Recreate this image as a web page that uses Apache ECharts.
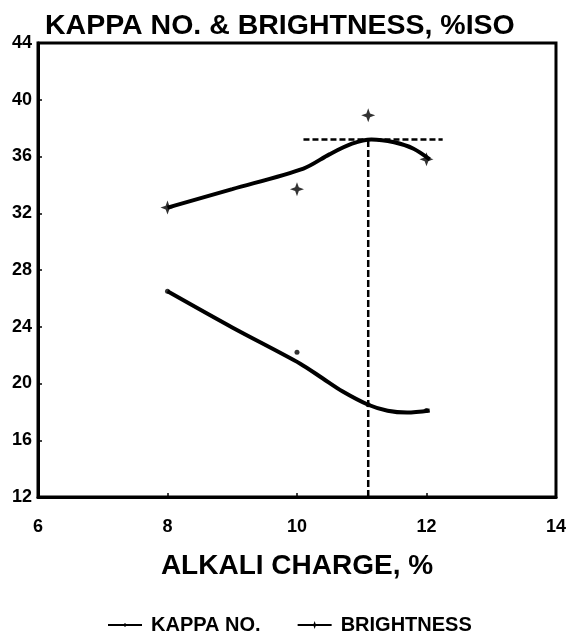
<!DOCTYPE html>
<html>
<head>
<meta charset="utf-8">
<script src="https://cdn.jsdelivr.net/npm/echarts@6/dist/echarts.min.js"></script>
<style>
html,body{margin:0;padding:0;background:#fff;}
#chart{width:569px;height:634px;}
</style>
</head>
<body>
<div id="chart"></div>
<script>
// ---- data ----
const titleText = 'KAPPA NO. & BRIGHTNESS, %ISO';
const xAxisTitle = 'ALKALI CHARGE, %';
const seriesNames = ['KAPPA NO.', 'BRIGHTNESS'];

// x axis: 6..14 step 2, y axis: 12..44 step 4
const xMin = 6, xMax = 14, xStep = 2;
const yMin = 12, yMax = 44, yStep = 4;

// measured points
const kappaPtsX = [8, 10, 11.1, 12];
const kappaPtsY = [26.5, 22.2, 18.5, 18.1];
const brightPtsX = [8, 10, 11.1, 12];
const brightPtsY = [32.4, 33.7, 38.9, 35.8];

// fitted curves
const kappaCurveX = [8, 9, 10.05, 10.4, 10.7, 11.1, 11.4, 11.7, 12.05];
const kappaCurveY = [26.5, 23.95, 21.4, 20.35, 19.45, 18.5, 18.08, 17.95, 18.1];
const brightCurveX = [8, 9, 10.1, 10.5, 10.85, 11.15, 11.5, 11.8, 12.05];
const brightCurveY = [32.4, 33.7, 35.15, 36.15, 36.9, 37.2, 37.0, 36.55, 35.8];

// optimum guide lines
const optX = 11.1;
const optY = 37.2;
const hGuideX = [10.1, 12.25];

const zip = (xs, ys) => xs.map((x, i) => [x, ys[i]]);

const FONT = '"Liberation Sans", Arial, Helvetica, sans-serif';
const plusSym = 'path://M5,0L6.3,3.7L10,5L6.3,6.3L5,10L3.7,6.3L0,5L3.7,3.7Z';
const dotSym = 'path://M0,0M10,10M5,2.4L7.6,5L5,7.6L2.4,5Z';

const chart = echarts.init(document.getElementById('chart'), null, {renderer: 'canvas'});
chart.setOption({
  backgroundColor: '#fff',
  animation: false,
  title: {
    text: titleText,
    left: 40, top: 7,
    textStyle: {fontFamily: FONT, fontWeight: 'bold', fontSize: 28.5, color: '#000'}
  },
  legend: {
    data: seriesNames,
    left: 102, top: 610,
    itemWidth: 34, itemHeight: 10, itemGap: 36,
    lineStyle: {width: 2},
    textStyle: {fontFamily: FONT, fontWeight: 'bold', fontSize: 20, color: '#000', padding: [0, 0, 0, 4]}
  },
  grid: {
    left: 38, right: 13, top: 43, bottom: 137,
    show: true, borderColor: '#000', borderWidth: 3
  },
  xAxis: {
    type: 'value', min: xMin, max: xMax, interval: xStep,
    name: xAxisTitle, nameLocation: 'middle', nameGap: 55,
    nameTextStyle: {fontFamily: FONT, fontWeight: 'bold', fontSize: 28, color: '#000'},
    axisLine: {show: true, lineStyle: {color: '#000', width: 3}},
    axisTick: {show: true, inside: true, length: 4, lineStyle: {color: '#000', width: 1.5}},
    axisLabel: {margin: 21, fontFamily: FONT, fontWeight: 'bold', fontSize: 18, color: '#000'},
    splitLine: {show: false}
  },
  yAxis: {
    type: 'value', min: yMin, max: yMax, interval: yStep,
    axisLine: {show: true, lineStyle: {color: '#000', width: 3}},
    axisTick: {show: true, inside: true, length: 4, lineStyle: {color: '#000', width: 1.5}},
    axisLabel: {margin: 6, fontFamily: FONT, fontWeight: 'bold', fontSize: 18, color: '#000'},
    splitLine: {show: false}
  },
  series: [
    {
      name: seriesNames[0], type: 'line', data: zip(kappaCurveX, kappaCurveY),
      smooth: 0.3, showSymbol: false, symbol: dotSym,
      lineStyle: {color: '#000', width: 4}, itemStyle: {color: '#000'}, z: 3
    },
    {
      name: seriesNames[1], type: 'line', data: zip(brightCurveX, brightCurveY),
      smooth: 0.3, showSymbol: false, symbol: plusSym,
      lineStyle: {color: '#000', width: 4}, itemStyle: {color: '#000'}, z: 3
    },
    {
      name: seriesNames[0], type: 'scatter', data: zip(kappaPtsX, kappaPtsY),
      symbol: 'circle', symbolSize: 5, itemStyle: {color: '#000'}, z: 4
    },
    {
      name: seriesNames[1], type: 'scatter', data: zip(brightPtsX, brightPtsY),
      symbol: plusSym, symbolSize: 14, itemStyle: {color: '#000'}, z: 4
    },
    {
      name: 'optH', type: 'line', data: zip(hGuideX, [optY, optY]),
      showSymbol: false, symbol: 'none',
      lineStyle: {color: '#000', width: 2.5, type: [6, 3]}, z: 2
    },
    {
      name: 'optV', type: 'line', data: zip([optX, optX], [yMin, optY]),
      showSymbol: false, symbol: 'none',
      lineStyle: {color: '#000', width: 2.5, type: [7, 3]}, z: 2
    }
  ]
});
</script>
</body>
</html>
